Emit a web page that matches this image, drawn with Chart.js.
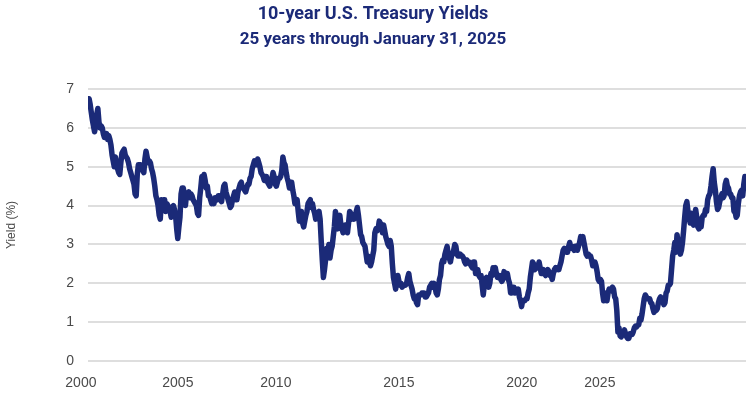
<!DOCTYPE html>
<html>
<head>
<meta charset="utf-8">
<script src="https://cdn.jsdelivr.net/npm/chart.js@4"></script>
<style>
  html, body { margin: 0; padding: 0; background: #fff; }
  #wrap { width: 752px; height: 394px; }
</style>
</head>
<body>
<div id="wrap"><canvas id="yieldChart" width="752" height="394"></canvas></div>
<script>
// 10-year yields, two readings per month (1st half, 2nd half)
const y2000 = [6.55, 6.75, 6.60, 6.40, 6.20, 6.05, 5.90, 6.05, 6.35, 6.50, 6.15, 6.00, 6.05, 6.00, 5.85, 5.75, 5.75, 5.85, 5.70, 5.80, 5.70, 5.55, 5.30, 5.15];
const y2001 = [5.00, 5.25, 5.10, 4.95, 4.85, 4.80, 5.10, 5.35, 5.40, 5.45, 5.30, 5.25, 5.20, 5.10, 4.95, 4.85, 4.75, 4.65, 4.55, 4.30, 4.25, 4.80, 5.05, 5.05];
const y2002 = [5.05, 4.95, 4.90, 4.85, 5.20, 5.40, 5.25, 5.10, 5.15, 5.10, 4.95, 4.85, 4.70, 4.50, 4.25, 4.15, 4.00, 3.75, 3.65, 4.15, 3.95, 4.15, 4.15, 3.85];
const y2003 = [4.05, 4.00, 3.95, 3.85, 3.70, 3.95, 4.00, 3.90, 3.75, 3.40, 3.15, 3.45, 3.70, 4.30, 4.45, 4.45, 4.30, 4.00, 4.30, 4.30, 4.35, 4.20, 4.30, 4.25];
const y2004 = [4.15, 4.10, 4.05, 4.00, 3.80, 3.75, 4.20, 4.45, 4.75, 4.70, 4.80, 4.65, 4.45, 4.50, 4.25, 4.25, 4.15, 4.05, 4.10, 4.05, 4.20, 4.20, 4.15, 4.25];
const y2005 = [4.25, 4.15, 4.10, 4.30, 4.50, 4.55, 4.35, 4.25, 4.15, 4.05, 3.95, 4.00, 4.15, 4.25, 4.35, 4.15, 4.15, 4.35, 4.45, 4.55, 4.60, 4.45, 4.45, 4.40];
const y2006 = [4.35, 4.45, 4.55, 4.55, 4.70, 4.75, 4.95, 5.05, 5.15, 5.05, 5.05, 5.20, 5.10, 5.00, 4.85, 4.80, 4.75, 4.65, 4.75, 4.75, 4.60, 4.55, 4.50, 4.65];
const y2007 = [4.70, 4.85, 4.75, 4.55, 4.50, 4.60, 4.70, 4.70, 4.75, 4.90, 5.25, 5.10, 5.05, 4.85, 4.70, 4.60, 4.45, 4.60, 4.60, 4.40, 4.25, 4.05, 4.10, 4.15];
const y2008 = [3.85, 3.60, 3.65, 3.85, 3.55, 3.45, 3.60, 3.75, 3.85, 4.05, 4.10, 4.15, 3.95, 4.05, 3.90, 3.80, 3.65, 3.75, 3.80, 3.85, 3.65, 3.10, 2.60, 2.15];
const y2009 = [2.35, 2.60, 2.90, 2.85, 3.00, 2.65, 2.85, 2.95, 3.20, 3.45, 3.85, 3.65, 3.40, 3.65, 3.75, 3.50, 3.40, 3.30, 3.35, 3.50, 3.40, 3.30, 3.55, 3.85];
const y2010 = [3.80, 3.65, 3.70, 3.65, 3.70, 3.85, 3.95, 3.75, 3.50, 3.25, 3.20, 3.05, 3.00, 2.95, 2.75, 2.55, 2.70, 2.55, 2.45, 2.55, 2.70, 2.85, 3.30, 3.40];
const y2011 = [3.35, 3.40, 3.60, 3.55, 3.45, 3.30, 3.50, 3.35, 3.20, 3.10, 3.00, 2.95, 3.10, 2.95, 2.50, 2.15, 2.00, 1.85, 2.05, 2.20, 2.05, 1.95, 2.00, 1.90];
const y2012 = [1.95, 1.95, 1.95, 2.00, 2.15, 2.25, 2.05, 1.95, 1.85, 1.70, 1.60, 1.65, 1.50, 1.45, 1.70, 1.70, 1.70, 1.75, 1.75, 1.75, 1.65, 1.65, 1.70, 1.75];
const y2013 = [1.90, 1.95, 2.00, 1.90, 2.00, 1.90, 1.75, 1.70, 1.85, 2.10, 2.20, 2.50, 2.60, 2.55, 2.75, 2.85, 2.95, 2.75, 2.65, 2.55, 2.70, 2.75, 2.85, 3.00];
const y2014 = [2.95, 2.75, 2.70, 2.70, 2.75, 2.70, 2.70, 2.65, 2.55, 2.50, 2.60, 2.55, 2.55, 2.50, 2.45, 2.40, 2.55, 2.55, 2.25, 2.30, 2.35, 2.20, 2.15, 2.20];
const y2015 = [1.95, 1.70, 1.95, 2.10, 2.15, 1.95, 1.90, 2.00, 2.25, 2.20, 2.40, 2.35, 2.40, 2.25, 2.15, 2.15, 2.20, 2.10, 2.05, 2.10, 2.30, 2.25, 2.25, 2.25];
const y2016 = [2.10, 2.00, 1.75, 1.75, 1.90, 1.90, 1.75, 1.85, 1.75, 1.85, 1.65, 1.55, 1.40, 1.55, 1.55, 1.55, 1.60, 1.60, 1.75, 1.85, 2.15, 2.35, 2.55, 2.50];
const y2017 = [2.35, 2.45, 2.45, 2.40, 2.55, 2.40, 2.25, 2.30, 2.35, 2.25, 2.20, 2.25, 2.35, 2.30, 2.20, 2.20, 2.10, 2.25, 2.35, 2.40, 2.35, 2.40, 2.35, 2.45];
const y2018 = [2.55, 2.70, 2.85, 2.90, 2.85, 2.80, 2.80, 2.95, 3.05, 2.90, 2.95, 2.90, 2.85, 2.95, 2.95, 2.85, 2.95, 3.05, 3.20, 3.15, 3.20, 3.05, 2.90, 2.75];
const y2019 = [2.70, 2.75, 2.70, 2.70, 2.60, 2.45, 2.55, 2.55, 2.45, 2.30, 2.10, 2.05, 2.10, 2.05, 1.75, 1.55, 1.75, 1.70, 1.55, 1.75, 1.85, 1.80, 1.85, 1.90];
const y2020 = [1.85, 1.65, 1.60, 1.30, 0.75, 0.85, 0.65, 0.62, 0.68, 0.70, 0.80, 0.70, 0.62, 0.58, 0.58, 0.70, 0.68, 0.68, 0.75, 0.85, 0.90, 0.88, 0.92, 0.93];
const y2021 = [1.10, 1.05, 1.20, 1.40, 1.60, 1.70, 1.65, 1.60, 1.60, 1.60, 1.50, 1.48, 1.35, 1.25, 1.30, 1.30, 1.35, 1.50, 1.60, 1.65, 1.55, 1.55, 1.45, 1.50];
const y2022 = [1.75, 1.80, 1.95, 1.95, 2.00, 2.35, 2.70, 2.85, 3.05, 2.80, 3.25, 3.05, 2.95, 2.75, 2.85, 3.05, 3.35, 3.70, 4.00, 4.10, 3.85, 3.70, 3.55, 3.80];
const y2023 = [3.55, 3.50, 3.70, 3.90, 3.70, 3.45, 3.40, 3.50, 3.45, 3.70, 3.75, 3.75, 3.90, 3.85, 4.15, 4.25, 4.30, 4.50, 4.75, 4.95, 4.60, 4.40, 4.10, 3.90];
const y2024 = [3.95, 4.10, 4.20, 4.30, 4.20, 4.25, 4.55, 4.65, 4.50, 4.45, 4.30, 4.30, 4.20, 4.20, 3.85, 3.85, 3.70, 3.75, 4.05, 4.25, 4.35, 4.40, 4.25, 4.55];
const y2025 = [4.75, 4.60];

const yields = [].concat(y2000, y2001, y2002, y2003, y2004, y2005, y2006, y2007, y2008,
  y2009, y2010, y2011, y2012, y2013, y2014, y2015, y2016, y2017, y2018, y2019,
  y2020, y2021, y2022, y2023, y2024, y2025);

// x-axis labels sit where the reference puts them (not on the true year)
const xTickLabels = ["2000", "2005", "2010", "2015", "2020", "2025"];
const xTickValues = [1999.73, 2003.42, 2007.15, 2011.83, 2016.51, 2019.48];
const yTicks = [0, 1, 2, 3, 4, 5, 6, 7];

const points = yields.map((v, i) => ({ x: 2000 + i / 24, y: v }));

const navy = "#1b2a78";
const labelFont = { family: "'Liberation Sans', Arial, sans-serif", size: 14 };

new Chart(document.getElementById("yieldChart"), {
  type: "line",
  data: {
    datasets: [{
      data: points,
      borderColor: navy,
      borderWidth: 5.5,
      borderJoinStyle: "round",
      borderCapStyle: "round",
      pointRadius: 0,
      tension: 0,
      fill: false
    }]
  },
  options: {
    responsive: false,
    animation: false,
    layout: { padding: { left: 0, right: 6, top: 0, bottom: 0 } },
    plugins: {
      legend: { display: false },
      tooltip: { enabled: false },
      title: {
        display: true,
        text: "10-year U.S. Treasury Yields",
        color: navy,
        font: { family: "Roboto, sans-serif", size: 18, weight: "bold" },
        padding: { top: 4, bottom: 4 }
      },
      subtitle: {
        display: true,
        text: "25 years through January 31, 2025",
        color: navy,
        font: { family: "Roboto, sans-serif", size: 17, weight: "bold" },
        padding: { top: 0, bottom: 39 }
      }
    },
    scales: {
      x: {
        type: "linear",
        min: 2000,
        max: 2000 + (yields.length - 1) / 24,
        grid: { display: false, drawTicks: false },
        border: { display: false },
        afterBuildTicks: (scale) => { scale.ticks = xTickValues.map(v => ({ value: v })); },
        afterFit: (scale) => { scale.height = 33; },
        ticks: {
          autoSkip: false,
          maxRotation: 0,
          padding: 14,
          color: "#4a4a4a",
          font: labelFont,
          callback: (v, i) => xTickLabels[i]
        }
      },
      y: {
        min: 0,
        max: 7,
        afterBuildTicks: (scale) => { scale.ticks = yTicks.map(v => ({ value: v })); },
        afterFit: (scale) => { scale.width = 88; },
        border: { display: false },
        grid: { color: "#dedede", lineWidth: 2, drawTicks: false },
        ticks: { padding: 14, color: "#4a4a4a", font: labelFont },
        title: {
          display: true,
          text: "Yield (%)",
          color: "#4a4a4a",
          font: { family: "'Liberation Sans', Arial, sans-serif", size: 12 }
        }
      }
    }
  }
});
</script>
</body>
</html>
